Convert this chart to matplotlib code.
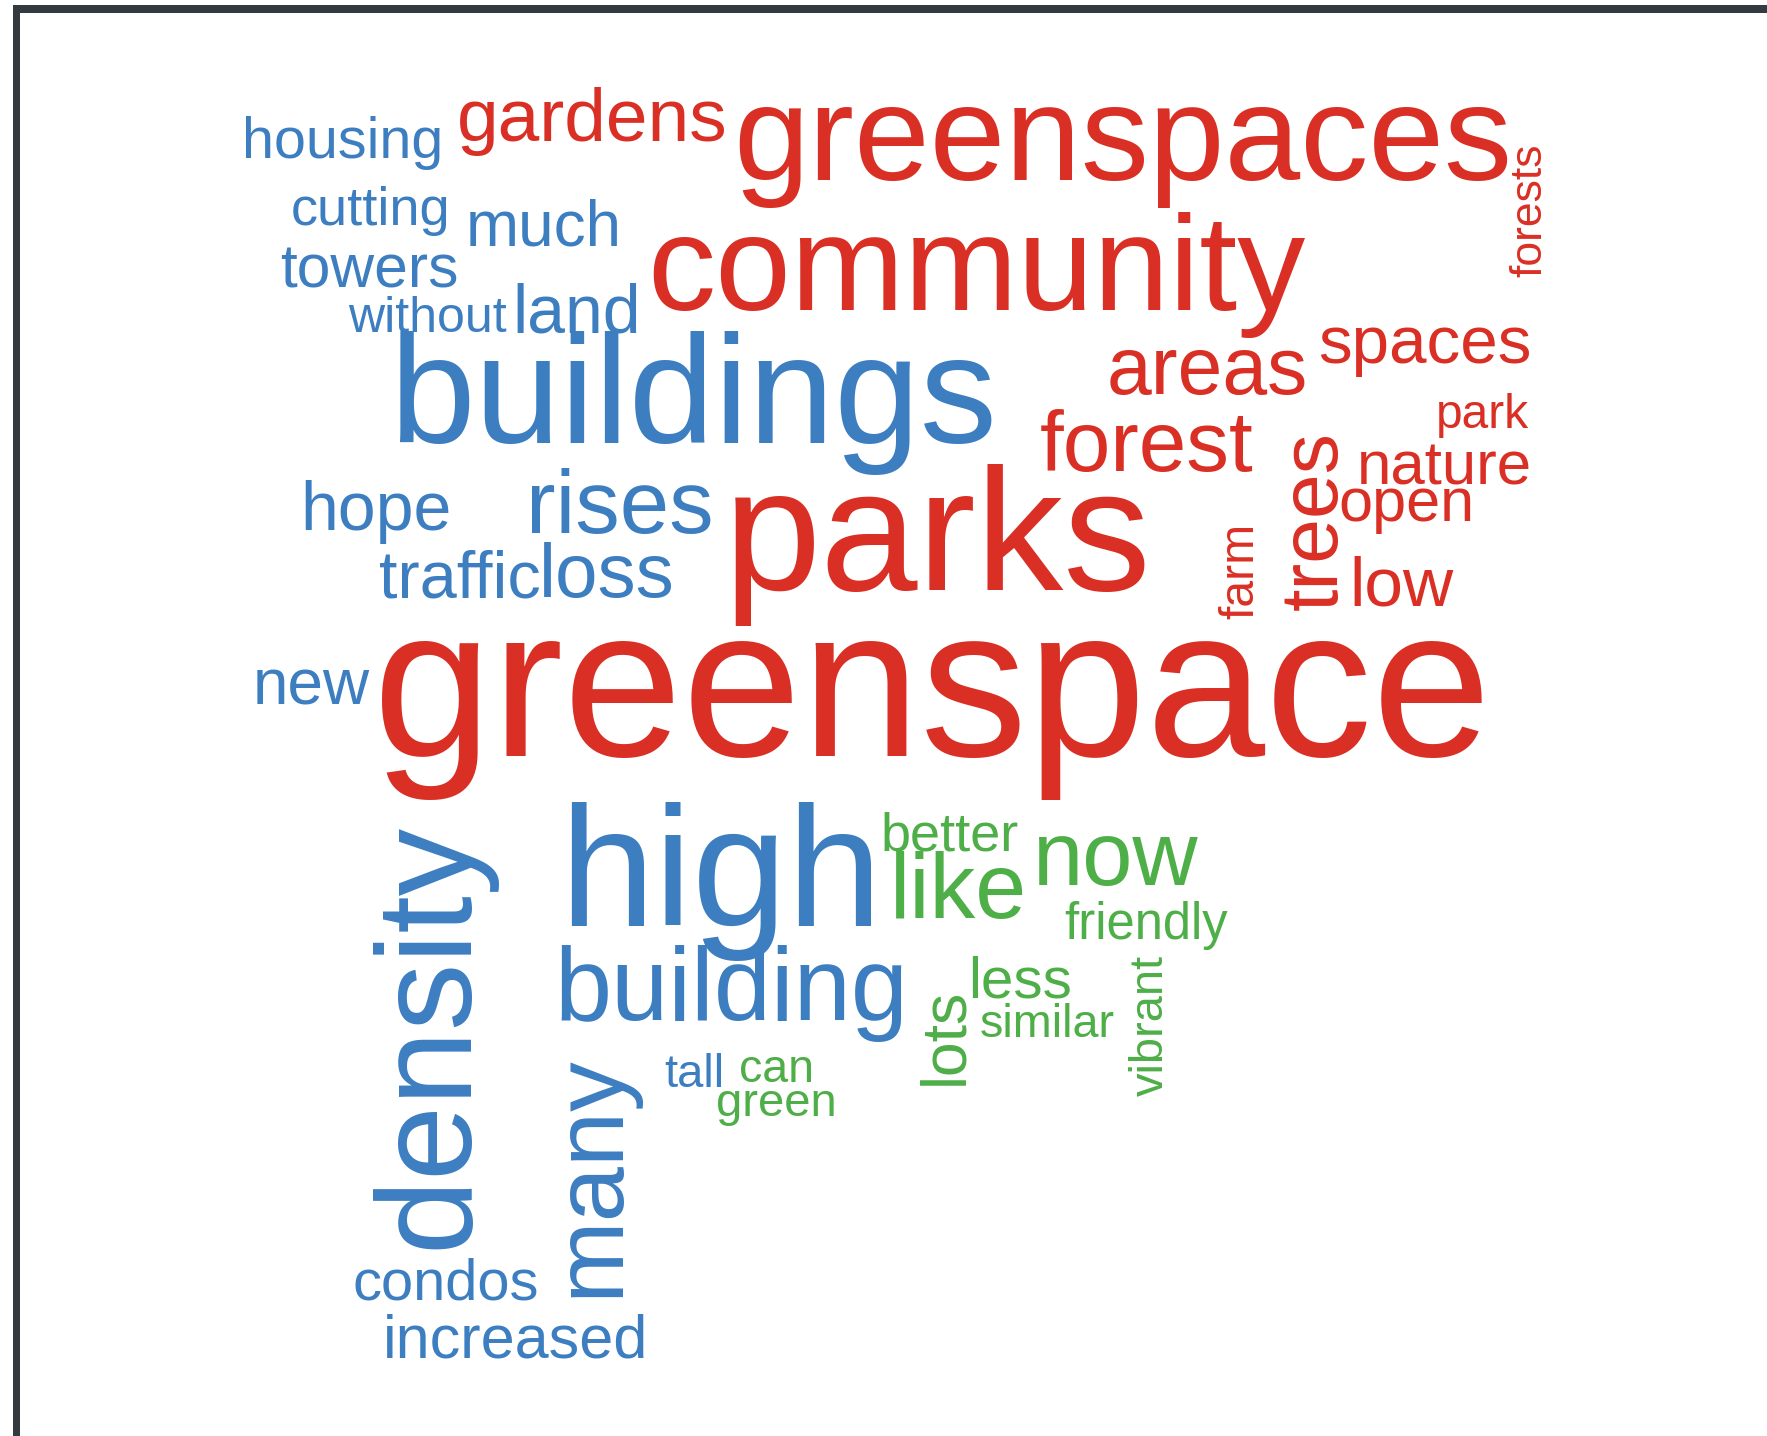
import matplotlib
matplotlib.use("Agg")
import matplotlib.pyplot as plt
from matplotlib.patches import Rectangle

plt.rcParams['font.family'] = ['Liberation Sans', 'DejaVu Sans']

# words of the cloud, their weight (font size, pt) and colour group
words = ['greenspace', 'greenspaces', 'community', 'gardens', 'housing', 'cutting',
         'much', 'towers', 'without', 'land', 'buildings', 'areas', 'spaces',
         'forests', 'park', 'forest', 'nature', 'trees', 'open', 'low', 'farm',
         'parks', 'hope', 'rises', 'traffic', 'loss', 'new', 'high', 'density',
         'many', 'building', 'condos', 'increased', 'tall', 'better', 'like',
         'now', 'friendly', 'less', 'similar', 'lots', 'vibrant', 'can', 'green']
sizes = [154, 98, 98, 54, 41.4, 39, 46, 43.6, 36, 49, 111, 58, 48.5,
         32, 34.5, 61.6, 44.5, 58, 44, 50, 34.7,
         126, 49, 64, 48, 55, 46, 123, 97,
         71.5, 74, 41.7, 44, 34, 39, 66,
         65, 36.5, 42, 33.7, 45, 33.8, 33.5, 34]
groups = ['r', 'r', 'r', 'r', 'b', 'b', 'b', 'b', 'b', 'b', 'b', 'r', 'r',
          'r', 'r', 'r', 'r', 'r', 'r', 'r', 'r',
          'r', 'b', 'b', 'b', 'b', 'b', 'b', 'b',
          'b', 'b', 'b', 'b', 'b', 'g', 'g',
          'g', 'g', 'g', 'g', 'g', 'g', 'g', 'g']

# layout: baseline start of each word (picture pixels) and rotation
xs = [331, 651, 574, 405, 215, 258, 413, 249, 309, 455, 345, 982, 1170,
      1368, 1274, 923, 1204, 1186, 1188, 1197, 1112,
      642, 266, 467, 336, 478, 224, 496, 414,
      548, 492, 313, 340, 589, 781, 790,
      916, 944, 859, 869, 854, 1032, 656, 635]
ys = [671, 160, 275, 125, 140, 200, 218, 255, 295, 295, 393, 350, 322,
      246, 380, 418, 430, 541, 462, 537, 549,
      524, 470, 473, 530, 530, 625, 822, 1108,
      1151, 905, 1153, 1205, 965, 755, 815,
      785, 833, 885, 920, 963, 973, 960, 990]
rots = [0, 0, 0, 0, 0, 0, 0, 0, 0, 0, 0, 0, 0,
        90, 0, 0, 0, 90, 0, 0, 90,
        0, 0, 0, 0, 0, 0, 0, 90,
        90, 0, 0, 0, 0, 0, 0,
        0, 0, 0, 0, 90, 90, 0, 0]

colors = {'r': '#DA2F24', 'b': '#3D7EC1', 'g': '#4EAE48'}

fig = plt.figure(figsize=(17.67, 14.36), dpi=100)
ax = fig.add_axes([0, 0, 1, 1])
ax.set_xlim(0, 1568)
ax.set_ylim(1274.3, 0)
ax.axis('off')

# frame (top and left edges)
ax.add_patch(Rectangle((11.5, 4.4), 1568, 7.2, color='#343b40', lw=0))
ax.add_patch(Rectangle((11.5, 4.4), 6.6, 1300, color='#343b40', lw=0))

for w, s, g, x, y, r in zip(words, sizes, groups, xs, ys, rots):
    ax.text(x, y, w, fontsize=s, color=colors[g], rotation=r,
            ha='left', va='baseline', rotation_mode='anchor')

plt.savefig('out.png', dpi=100)
